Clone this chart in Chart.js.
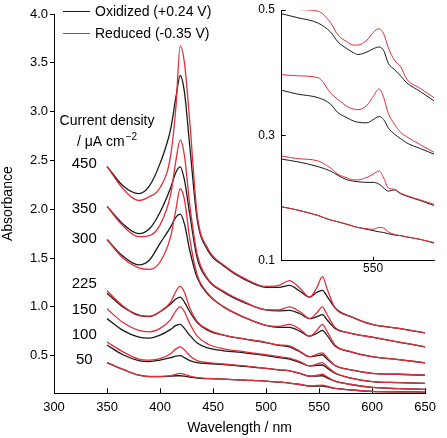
<!DOCTYPE html>
<html lang="en">
<head>
<meta charset="UTF-8">
<title>Absorbance spectra</title>
<script src="https://cdn.jsdelivr.net/npm/chart.js"></script>
<style>
    body { margin: 0; background: #fff; }
    #wrap { position: relative; width: 447px; height: 438px; }
    #inset { position: absolute; left: 240px; top: 0; }
    #legend { position: absolute; left: 63px; top: 0; font: 14px "Liberation Sans", Arial, sans-serif; color: #000; }
    .row { display: flex; align-items: center; height: 22px; }
    .key { width: 27px; height: 0; margin-right: 5px; }
</style>
</head>
<body>
<div id="wrap">
    <canvas id="main" width="447" height="438"></canvas>
    <canvas id="inset" width="207" height="285"></canvas>
    <div id="legend"></div>
</div>
<script>
    // main spectra, sampled at these wavelengths (nm)
    const wavelengths = [350, 365, 380, 390, 400, 410, 415, 419, 423, 428, 435, 445, 460, 480, 500, 512, 522, 532, 541, 548, 553, 558, 565, 580, 600, 625, 650];
    const densities = ['450', '350', '300', '225', '150', '100', '50'];
    const seriesNames = ['Oxidized (+0.24 V)', 'Reduced (-0.35 V)'];

    const ox450 = [2.44, 2.24, 2.16, 2.24, 2.47, 2.82, 3.15, 3.37, 3.20, 2.65, 1.90, 1.58, 1.42, 1.28, 1.20, 1.20, 1.22, 1.16, 1.10, 1.15, 1.17, 1.10, 0.99, 0.90, 0.82, 0.78, 0.735];
    const red450 = [2.44, 2.21, 2.09, 2.13, 2.22, 2.55, 3.05, 3.67, 3.50, 2.90, 1.95, 1.60, 1.43, 1.29, 1.21, 1.22, 1.27, 1.19, 1.10, 1.20, 1.31, 1.17, 0.99, 0.90, 0.82, 0.78, 0.735];
    const ox350 = [2.03, 1.85, 1.75, 1.80, 1.97, 2.22, 2.38, 2.435, 2.30, 1.95, 1.50, 1.28, 1.15, 1.04, 0.97, 0.96, 0.965, 0.93, 0.88, 0.90, 0.92, 0.86, 0.78, 0.73, 0.69, 0.64, 0.59];
    const red350 = [2.03, 1.83, 1.72, 1.73, 1.84, 2.15, 2.50, 2.71, 2.55, 2.05, 1.54, 1.29, 1.16, 1.05, 0.97, 0.97, 1.0, 0.95, 0.88, 0.94, 1.0, 0.91, 0.79, 0.73, 0.69, 0.64, 0.59];
    const ox300 = [1.69, 1.52, 1.43, 1.48, 1.65, 1.82, 1.92, 1.95, 1.85, 1.58, 1.30, 1.13, 1.00, 0.89, 0.81, 0.79, 0.79, 0.75, 0.70, 0.73, 0.76, 0.70, 0.60, 0.54, 0.49, 0.46, 0.427];
    const red300 = [1.69, 1.50, 1.40, 1.385, 1.46, 1.72, 2.0, 2.21, 2.10, 1.70, 1.33, 1.14, 1.00, 0.89, 0.81, 0.80, 0.82, 0.77, 0.70, 0.76, 0.82, 0.74, 0.61, 0.54, 0.49, 0.46, 0.427];
    const ox225 = [1.14, 1.00, 0.915, 0.90, 0.95, 1.03, 1.08, 1.10, 1.05, 0.95, 0.84, 0.76, 0.71, 0.67, 0.635, 0.605, 0.59, 0.54, 0.49, 0.50, 0.51, 0.46, 0.40, 0.355, 0.32, 0.31, 0.30];
    const red225 = [1.165, 1.01, 0.91, 0.905, 0.95, 1.05, 1.16, 1.21, 1.15, 0.99, 0.85, 0.77, 0.71, 0.67, 0.635, 0.61, 0.60, 0.545, 0.49, 0.515, 0.53, 0.475, 0.40, 0.355, 0.32, 0.31, 0.30];
    const ox150 = [0.88, 0.76, 0.69, 0.68, 0.71, 0.77, 0.81, 0.82, 0.78, 0.71, 0.63, 0.58, 0.55, 0.53, 0.50, 0.48, 0.465, 0.43, 0.395, 0.40, 0.405, 0.37, 0.32, 0.27, 0.235, 0.225, 0.216];
    const red150 = [0.98, 0.84, 0.76, 0.745, 0.78, 0.87, 0.96, 1.0, 0.95, 0.83, 0.70, 0.62, 0.57, 0.54, 0.51, 0.49, 0.475, 0.44, 0.395, 0.415, 0.43, 0.385, 0.325, 0.27, 0.235, 0.225, 0.216];
    const ox100 = [0.61, 0.51, 0.45, 0.44, 0.455, 0.48, 0.495, 0.50, 0.48, 0.45, 0.43, 0.42, 0.41, 0.39, 0.37, 0.355, 0.345, 0.32, 0.29, 0.29, 0.295, 0.27, 0.24, 0.205, 0.175, 0.162, 0.155];
    const red100 = [0.64, 0.54, 0.465, 0.455, 0.47, 0.52, 0.57, 0.59, 0.56, 0.50, 0.45, 0.43, 0.415, 0.395, 0.37, 0.355, 0.345, 0.32, 0.29, 0.30, 0.31, 0.28, 0.24, 0.205, 0.175, 0.162, 0.155];
    const ox50 = [0.43, 0.36, 0.30, 0.285, 0.285, 0.29, 0.295, 0.295, 0.29, 0.28, 0.27, 0.265, 0.26, 0.25, 0.24, 0.23, 0.22, 0.205, 0.19, 0.19, 0.19, 0.18, 0.165, 0.15, 0.135, 0.13, 0.128];
    const red50 = [0.43, 0.36, 0.30, 0.287, 0.287, 0.295, 0.31, 0.32, 0.31, 0.29, 0.275, 0.267, 0.26, 0.25, 0.24, 0.23, 0.22, 0.205, 0.19, 0.195, 0.198, 0.185, 0.165, 0.15, 0.135, 0.13, 0.128];

    const xTicks = [300, 350, 400, 450, 500, 550, 600, 650];
    const yTicks = [0.5, 1.0, 1.5, 2.0, 2.5, 3.0, 3.5, 4.0];

    // inset (zoom on the lowest spectra)
    const insetWavelengths = [490, 500, 514, 522, 527, 533, 537, 540, 546, 550, 554, 557, 560, 564, 568, 572, 581, 590];
    const insetOx1 = [0.494, 0.488, 0.479, 0.465, 0.449, 0.438, 0.432, 0.429, 0.433, 0.438, 0.441, 0.435, 0.415, 0.405, 0.395, 0.384, 0.37, 0.355];
    const insetRed1 = [0.508, 0.501, 0.498, 0.48, 0.46, 0.449, 0.444, 0.444, 0.452, 0.464, 0.47, 0.462, 0.44, 0.42, 0.41, 0.39, 0.375, 0.36];
    const insetOx2 = [0.372, 0.366, 0.36, 0.35, 0.336, 0.328, 0.323, 0.321, 0.32, 0.325, 0.33, 0.325, 0.312, 0.302, 0.295, 0.288, 0.279, 0.27];
    const insetRed2 = [0.397, 0.395, 0.392, 0.368, 0.357, 0.346, 0.342, 0.341, 0.348, 0.362, 0.374, 0.36, 0.335, 0.318, 0.305, 0.298, 0.285, 0.273];
    const insetOx3 = [0.262, 0.258, 0.25, 0.243, 0.236, 0.229, 0.227, 0.226, 0.225, 0.225, 0.222, 0.216, 0.211, 0.213, 0.207, 0.203, 0.196, 0.188];
    const insetRed3 = [0.267, 0.263, 0.259, 0.248, 0.238, 0.232, 0.229, 0.229, 0.233, 0.238, 0.243, 0.232, 0.216, 0.214, 0.208, 0.204, 0.197, 0.19];
    const insetOx4 = [0.186, 0.181, 0.172, 0.165, 0.162, 0.158, 0.155, 0.153, 0.15, 0.148, 0.146, 0.145, 0.143, 0.141, 0.14, 0.138, 0.134, 0.128];
    const insetRed4 = [0.186, 0.181, 0.172, 0.165, 0.162, 0.158, 0.155, 0.153, 0.151, 0.15, 0.153, 0.152, 0.146, 0.142, 0.14, 0.138, 0.134, 0.129];
    const insetXTicks = [550];
    const insetYTicks = [0.1, 0.3, 0.5];

    const BLACK = '#1a1a1a';
    const RED = '#e02f3b';
    const FONT = '"Liberation Sans", Arial, sans-serif';
    Chart.defaults.font.family = FONT;
    Chart.defaults.color = '#000';

    function toPoints(xs, ys) {
        return ys.map((y, i) => ({x: xs[i], y: y}));
    }

    function makeSets(xs, pairs, width) {
        const sets = [];
        pairs.forEach(p => {
            sets.push({label: seriesNames[0], data: toPoints(xs, p[0]), borderColor: BLACK, borderWidth: width, order: 1});
            sets.push({label: seriesNames[1], data: toPoints(xs, p[1]), borderColor: RED, borderWidth: width, order: 0});
        });
        return sets;
    }

    const mainPairs = [[ox450, red450], [ox350, red350], [ox300, red300], [ox225, red225], [ox150, red150], [ox100, red100], [ox50, red50]];
    const insetPairs = [[insetOx1, insetRed1], [insetOx2, insetRed2], [insetOx3, insetRed3], [insetOx4, insetRed4]];

    // text placed inside the plot (in data units)
    const labelWavelength = 328.5;
    const labelLevels = [2.47, 2.0, 1.695, 1.24, 0.967, 0.71, 0.455];

    const annotate = {
        id: 'annotate',
        afterDatasetsDraw(chart) {
            const ctx = chart.ctx, xs = chart.scales.x, ys = chart.scales.y;
            ctx.save();
            ctx.fillStyle = '#000';
            ctx.textBaseline = 'middle';
            ctx.textAlign = 'center';
            ctx.font = '14px ' + FONT;
            const cx = xs.getPixelForValue(350);
            ctx.fillText('Current density', cx, ys.getPixelForValue(2.904));
            const unit = '/ \u03bcA cm', sup = '\u22122';
            const w1 = ctx.measureText(unit).width;
            ctx.font = '10px ' + FONT;
            const w2 = ctx.measureText(sup).width;
            const left = cx - (w1 + 1 + w2) / 2;
            const uy = ys.getPixelForValue(2.689);
            ctx.textAlign = 'left';
            ctx.fillText(sup, left + w1 + 1, uy - 5);
            ctx.font = '14px ' + FONT;
            ctx.fillText(unit, left, uy);
            ctx.textAlign = 'center';
            ctx.font = '15px ' + FONT;
            densities.forEach((d, i) => {
                ctx.fillText(d, xs.getPixelForValue(labelWavelength), ys.getPixelForValue(labelLevels[i]));
            });
            ctx.restore();
        }
    };

    const commonLine = {point: {radius: 0}, line: {cubicInterpolationMode: 'monotone', fill: false}};

    new Chart(document.getElementById('main'), {
        type: 'line',
        data: {datasets: makeSets(wavelengths, mainPairs, 1.3)},
        options: {
            responsive: false,
            animation: false,
            devicePixelRatio: 1,
            layout: {padding: {top: 14, right: 11, bottom: 1.6, left: 0}},
            elements: commonLine,
            plugins: {legend: {display: false}, tooltip: {enabled: false}},
            scales: {
                x: {
                    type: 'linear', min: 300, max: 650,
                    afterBuildTicks: s => { s.ticks = xTicks.map(v => ({value: v})); },
                    afterFit: s => { s.height = 43.1; },
                    grid: {drawOnChartArea: false, tickLength: -5, tickColor: '#000'},
                    border: {color: '#000', width: 1},
                    ticks: {padding: 11, font: {size: 13}, maxRotation: 0, callback: v => v},
                    title: {display: true, text: 'Wavelength / nm', font: {size: 14}, padding: {top: 4, bottom: 0}}
                },
                y: {
                    type: 'linear', min: 0.115, max: 4.0,
                    afterBuildTicks: s => { s.ticks = yTicks.map(v => ({value: v})); },
                    afterFit: s => { s.width = 54; },
                    grid: {drawOnChartArea: false, tickLength: 4, tickColor: '#000'},
                    border: {color: '#000', width: 1},
                    ticks: {padding: 2, font: {size: 13}, callback: v => v.toFixed(1)},
                    title: {display: true, text: 'Absorbance', font: {size: 14}, padding: {top: 0, bottom: 0}}
                }
            }
        },
        plugins: [annotate]
    });

    new Chart(document.getElementById('inset'), {
        type: 'line',
        data: {datasets: makeSets(insetWavelengths, insetPairs, 1)},
        options: {
            responsive: false,
            animation: false,
            devicePixelRatio: 1,
            layout: {padding: {top: 10, right: 13, bottom: 0, left: 0}},
            elements: commonLine,
            plugins: {legend: {display: false}, tooltip: {enabled: false}},
            scales: {
                x: {
                    type: 'linear', min: 490, max: 590,
                    afterBuildTicks: s => { s.ticks = insetXTicks.map(v => ({value: v})); },
                    afterFit: s => { s.height = 24.3; },
                    grid: {drawOnChartArea: false, tickLength: -4, tickColor: '#000'},
                    border: {color: '#000', width: 1},
                    ticks: {padding: 5, font: {size: 12}, maxRotation: 0, callback: v => v}
                },
                y: {
                    type: 'linear', min: 0.1, max: 0.5,
                    afterBuildTicks: s => { s.ticks = insetYTicks.map(v => ({value: v})); },
                    // fixed width; drop the label overhang so the plot top stays where it should
                    afterFit: s => { s.width = 41.7; s.paddingTop = 0; s.paddingBottom = 0; },
                    grid: {drawOnChartArea: false, tickLength: -4, tickColor: '#000'},
                    border: {color: '#000', width: 1},
                    ticks: {padding: 10.7, font: {size: 12}, callback: v => v.toFixed(1)}
                }
            }
        }
    });

    // legend built from the series names
    const legend = document.getElementById('legend');
    seriesNames.forEach((name, i) => {
        const row = document.createElement('div');
        row.className = 'row';
        const key = document.createElement('span');
        key.className = 'key';
        key.style.borderTop = '1.4px solid ' + (i === 0 ? BLACK : RED);
        const txt = document.createElement('span');
        txt.textContent = name;
        row.appendChild(key);
        row.appendChild(txt);
        legend.appendChild(row);
    });
</script>
</body>
</html>
